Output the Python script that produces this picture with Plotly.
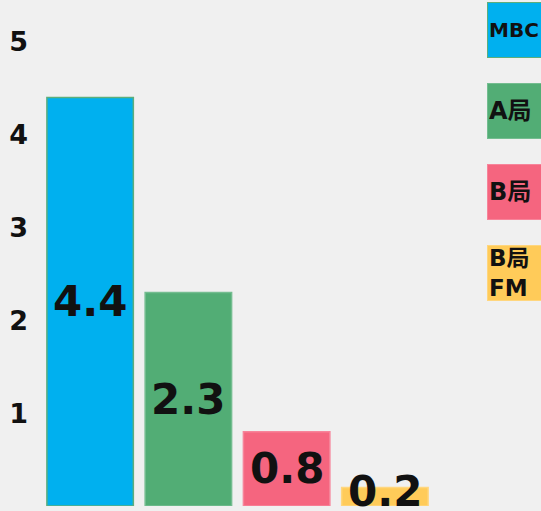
import plotly.graph_objects as go

categories = ["MBC", "A局", "B局", "B局<br>FM"]
values = [4.4, 2.3, 0.8, 0.2]
value_labels = ["4.4", "2.3", "0.8", "0.2"]
colors = ["#00b0ef", "#52ad75", "#f5657f", "#ffcb59"]
line_colors = ["#5dae7c", "#74bd90", "#f7849a", "#ffd67e"]
tick_vals = [1, 2, 3, 4, 5]
tick_text = ["1", "2", "3", "4", "5"]

FONT = "DejaVu Sans, Noto Sans CJK JP, sans-serif"

fig = go.Figure()
fig.add_trace(go.Bar(
    x=categories, y=values,
    marker=dict(color=colors, line=dict(color=line_colors, width=1.5)),
    hoverinfo="skip",
))

for c, v, t in zip(categories, values, value_labels):
    fig.add_annotation(x=c, y=max(v / 2, 0.16), xref="x", yref="y", text=t, showarrow=False,
                       font=dict(family=FONT, size=42, color="#111111", weight="bold"),
                       yanchor="middle")

legend_y = [0.996, 0.826, 0.656, 0.488]
legend_sizes = [20, 24, 24, 23]
for c, col, lc, yy, fs in zip(categories, colors, line_colors, legend_y, legend_sizes):
    fig.add_annotation(x=1.135, y=yy, xref="paper", yref="paper", text=c, showarrow=False,
                       xanchor="left", yanchor="middle", align="left",
                       bgcolor=col, bordercolor=lc, borderwidth=1, borderpad=1,
                       width=58, height=52,
                       font=dict(family=FONT, size=fs, color="#111111", weight="bold"))

fig.update_layout(
    width=541, height=511,
    margin=dict(l=41, r=107, t=28, b=5),
    paper_bgcolor="#f0f0f0", plot_bgcolor="#f0f0f0",
    bargap=0.12,
    showlegend=False,
    xaxis=dict(showticklabels=False, showgrid=False, zeroline=False, showline=False, ticks=""),
    yaxis=dict(range=[0, 5.15], tickvals=tick_vals, ticktext=tick_text,
               showgrid=False, zeroline=False, showline=False, ticks="",
               tickfont=dict(family=FONT, size=27, color="#111111", weight="bold"),
               ticklabelstandoff=12),
)

fig.write_html("out.html", config={"displayModeBar": False},
               post_script="document.body.style.margin='0';document.body.style.overflow='hidden';")
